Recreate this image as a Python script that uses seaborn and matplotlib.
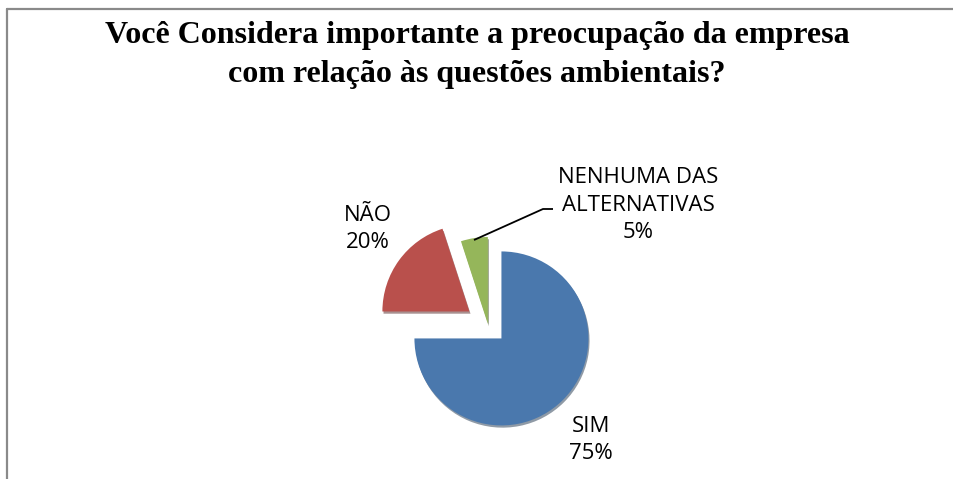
import matplotlib
matplotlib.use("Agg")
import matplotlib.pyplot as plt
from matplotlib.lines import Line2D
import seaborn as sns

# ---- data ----
categories = ["SIM", "NÃO", "NENHUMA DAS\nALTERNATIVAS"]
values = [75, 20, 5]
pct_labels = ["75%", "20%", "5%"]
title_lines = ["Você Considera importante a preocupação da empresa",
               "com relação às questões ambientais?"]

# ---- style ----
sns.set_theme(style="white")
plt.rcParams['font.family'] = ['Open Sans', 'DejaVu Sans']
colors = sns.color_palette(["#4A78AD", "#B9504C", "#95B65A"])

W, H = 954, 479
fig = plt.figure(figsize=(W / 100, H / 100), dpi=100)
ax = fig.add_axes([0, 0, 1, 1])

# pixel-based data space (y up)
cx, cy, R = 488, H - 325, 87
explode = [19, 23, 1]

wedges, _ = ax.pie(values, colors=colors, startangle=90, counterclock=False,
                   center=(cx, cy), radius=R, explode=explode,
                   shadow={'ox': 0.8, 'oy': -1.6, 'shade': 0.55},
                   wedgeprops=dict(linewidth=0))
ax.set_xlim(0, W)
ax.set_ylim(0, H)
ax.set_aspect('equal')
ax.axis('off')

fs = 16
# labels
lbl_pos = [(591, H - 440), (368, H - 229), (638, H - 205)]
for cat, pct, (lx, ly) in zip(categories, pct_labels, lbl_pos):
    ax.text(lx, ly, f"{cat}\n{pct}", ha='center', va='center',
            multialignment='center', fontsize=fs, color='black',
            linespacing=1.42)

# leader line for small slice
ax.plot([474, 543, 553], [H - 240, H - 209, H - 209], color='black', lw=1.3,
        solid_capstyle='butt')

# title
fig.text(0.5, 1 - 43 / H, title_lines[0], ha='center', va='baseline',
         fontsize=23, fontweight='bold', family='Liberation Serif', color='black')
fig.text(0.5, 1 - 82 / H, title_lines[1], ha='center', va='baseline',
         fontsize=23, fontweight='bold', family='Liberation Serif', color='black')

# chart-area border (top and left visible)
bc = '#8a8a8a'
fig.add_artist(Line2D([7 / W, 1], [1 - 9 / H, 1 - 9 / H], transform=fig.transFigure,
                      color=bc, lw=1.6))
fig.add_artist(Line2D([7 / W, 7 / W], [0, 1 - 9 / H], transform=fig.transFigure,
                      color=bc, lw=1.6))

fig.savefig("out.png", dpi=100)
